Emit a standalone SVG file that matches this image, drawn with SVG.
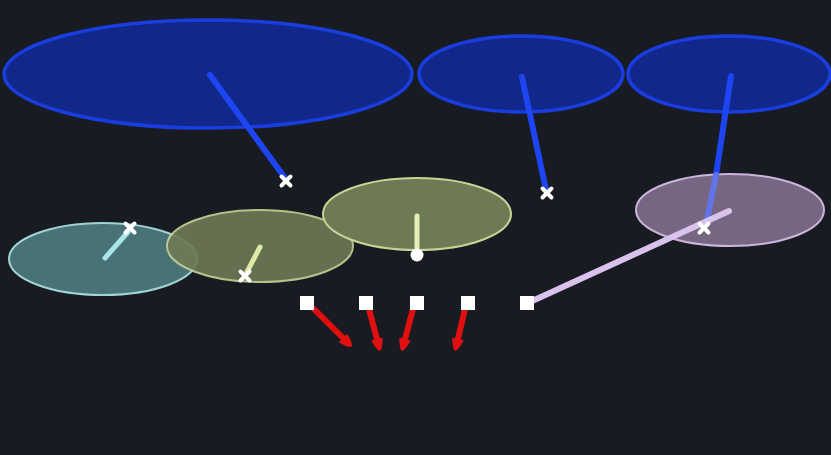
<svg xmlns="http://www.w3.org/2000/svg" width="831" height="455" viewBox="0 0 831 455">
<style>
.blue{fill:#112789;stroke:#1a3de0;stroke-width:3.5}
.cyan{fill:#4c777c;stroke:#a9dede;stroke-width:2}
.olive{fill:#6e7a55;stroke:#c6d595;stroke-width:2}
.purple{fill:#766682;stroke:#cdb6dc;stroke-width:2}
.bl{stroke:#1e45f2;stroke-width:6;stroke-linecap:round}
.sq{fill:#ffffff}
.x{stroke:#ffffff;stroke-width:4;stroke-linecap:round}
.red{stroke:#e01010;stroke-width:6;stroke-linecap:round;marker-end:url(#ah)}
</style>
<defs>
<marker id="ah" viewBox="0 0 10 10" refX="4" refY="5" markerWidth="2.2" markerHeight="2.2" orient="auto" markerUnits="strokeWidth">
<path d="M1,0.5 Q10,3 10,5 Q10,7 1,9.5 Q0,5 1,0.5 Z" fill="#e01010"/>
</marker>
<g id="xm"><line class="x" x1="-4.5" y1="-4.5" x2="4.5" y2="4.5"/><line class="x" x1="-4.5" y1="4.5" x2="4.5" y2="-4.5"/></g>
</defs>
<rect width="831" height="455" fill="#181b22"/>
<g id="n-big"><ellipse class="blue" cx="208" cy="74" rx="204" ry="54"/></g>
<g id="n-mid"><ellipse class="blue" cx="521" cy="74" rx="102" ry="38"/></g>
<g id="n-right"><ellipse class="blue" cx="729" cy="74" rx="101" ry="38"/></g>
<g id="n-cyan"><ellipse class="cyan" cx="103" cy="259" rx="94" ry="36" opacity="0.95"/></g>
<g id="n-olive1"><ellipse class="olive" cx="260" cy="246" rx="93" ry="36" opacity="0.9"/></g>
<g id="n-olive2"><ellipse class="olive" cx="417" cy="214" rx="94" ry="36"/></g>
<g id="n-purple"><ellipse class="purple" cx="730" cy="210" rx="94" ry="36"/></g>
<g id="connectors">
<line class="bl" x1="210" y1="75" x2="285" y2="178"/>
<line class="bl" x1="522" y1="77" x2="546" y2="190"/>
<line class="bl" x1="731" y1="76" x2="716" y2="175"/>
<line x1="716" y1="175" x2="706" y2="225" stroke="#6175e8" stroke-width="6" stroke-linecap="round"/>
<line x1="105" y1="258" x2="128" y2="232" stroke="#a9e6ea" stroke-width="5" stroke-linecap="round"/>
<line x1="260" y1="247" x2="247" y2="272" stroke="#dfe9a8" stroke-width="5" stroke-linecap="round"/>
<line x1="417" y1="216" x2="417" y2="252" stroke="#e6efb4" stroke-width="5" stroke-linecap="round"/>
<line x1="530" y1="302" x2="729" y2="211" stroke="#d9c2ec" stroke-width="6" stroke-linecap="round"/>
<line class="red" x1="314" y1="309" x2="346" y2="341"/>
<line class="red" x1="369" y1="309" x2="378" y2="343"/>
<line class="red" x1="413" y1="309" x2="404" y2="343"/>
<line class="red" x1="465" y1="309" x2="457" y2="343"/>
</g>
<g id="marks">
<use href="#xm" x="286" y="181"/>
<use href="#xm" x="547" y="193"/>
<use href="#xm" x="704" y="228"/>
<use href="#xm" x="130" y="228"/>
<use href="#xm" x="245" y="276"/>
<circle cx="417" cy="255" r="6.5" fill="#ffffff"/>
</g>
<g id="squares">
<rect class="sq" x="300" y="296" width="14" height="14"/>
<rect class="sq" x="359" y="296" width="14" height="14"/>
<rect class="sq" x="410" y="296" width="14" height="14"/>
<rect class="sq" x="461" y="296" width="14" height="14"/>
<rect class="sq" x="520" y="296" width="14" height="14"/>
</g>
</svg>
